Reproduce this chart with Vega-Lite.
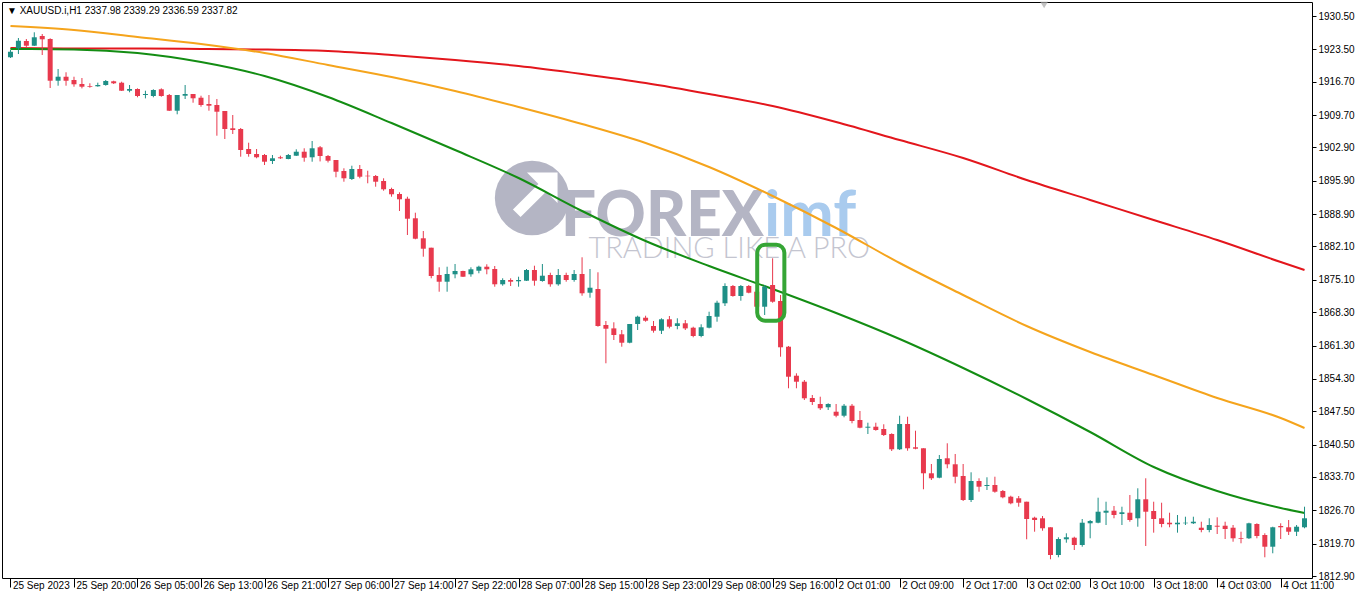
{
  "$schema": "https://vega.github.io/schema/vega-lite/v6.json",
  "width": 1310,
  "height": 576,
  "autosize": {"type": "none"},
  "padding": {"left": 2, "top": 2, "right": 48, "bottom": 23},
  "background": "#ffffff",
  "config": {
    "view": {"stroke": "#000000", "strokeWidth": 1},
    "axis": {"labelFont": "Liberation Sans", "labelFontSize": 10, "labelColor": "#000000", "domainColor": "#000000", "tickColor": "#000000", "grid": false, "title": null, "labelOverlap": false, "labelFlush": false, "labelBound": false}
  },
  "title": {"text": "▼ XAUUSD.i,H1  2337.98 2339.29 2336.59 2337.82", "anchor": "start", "frame": "group", "orient": "top", "offset": -14, "dx": 5, "font": "Liberation Sans", "fontSize": 10, "fontWeight": "normal", "color": "#000000"},
  "datasets": {
    "candles": [
      {"i":0,"o":1921.83,"h":1923.36,"l":1921.68,"c":1923.0},
      {"i":1,"o":1923.72,"h":1925.88,"l":1922.52,"c":1925.31},
      {"i":2,"o":1925.25,"h":1925.67,"l":1924.0,"c":1924.26},
      {"i":3,"o":1924.26,"h":1927.08,"l":1924.2,"c":1926.03},
      {"i":4,"o":1926.3,"h":1926.72,"l":1922.31,"c":1925.61},
      {"i":5,"o":1925.67,"h":1925.82,"l":1915.38,"c":1916.91},
      {"i":6,"o":1916.91,"h":1919.37,"l":1915.86,"c":1917.75},
      {"i":7,"o":1917.75,"h":1918.68,"l":1915.86,"c":1916.91},
      {"i":8,"o":1917.06,"h":1917.75,"l":1915.65,"c":1916.16},
      {"i":9,"o":1916.22,"h":1917.48,"l":1915.3,"c":1915.65},
      {"i":10,"o":1915.8,"h":1916.37,"l":1915.44,"c":1915.65},
      {"i":11,"o":1915.74,"h":1916.5,"l":1915.65,"c":1916.01},
      {"i":12,"o":1916.01,"h":1917.06,"l":1915.86,"c":1916.85},
      {"i":13,"o":1916.79,"h":1916.91,"l":1916.22,"c":1916.37},
      {"i":14,"o":1916.49,"h":1916.7,"l":1914.75,"c":1914.81},
      {"i":15,"o":1914.81,"h":1916.01,"l":1914.48,"c":1915.17},
      {"i":16,"o":1915.17,"h":1915.31,"l":1913.43,"c":1913.7},
      {"i":17,"o":1913.91,"h":1914.81,"l":1913.2,"c":1914.12},
      {"i":18,"o":1913.7,"h":1915.11,"l":1913.43,"c":1914.96},
      {"i":19,"o":1915.11,"h":1915.31,"l":1913.55,"c":1913.7},
      {"i":20,"o":1913.91,"h":1914.12,"l":1910.55,"c":1910.61},
      {"i":21,"o":1910.61,"h":1913.91,"l":1909.86,"c":1913.91},
      {"i":22,"o":1913.76,"h":1916.01,"l":1913.07,"c":1914.12},
      {"i":23,"o":1914.12,"h":1914.12,"l":1912.29,"c":1913.22},
      {"i":24,"o":1913.34,"h":1913.76,"l":1911.45,"c":1911.81},
      {"i":25,"o":1912.02,"h":1913.91,"l":1910.61,"c":1911.66},
      {"i":26,"o":1911.81,"h":1913.07,"l":1905.36,"c":1910.4},
      {"i":27,"o":1910.55,"h":1910.55,"l":1904.67,"c":1906.77},
      {"i":28,"o":1906.92,"h":1909.71,"l":1905.72,"c":1906.56},
      {"i":29,"o":1906.77,"h":1906.98,"l":1900.95,"c":1902.36},
      {"i":30,"o":1902.57,"h":1903.89,"l":1900.95,"c":1901.52},
      {"i":31,"o":1901.52,"h":1902.57,"l":1900.62,"c":1900.83},
      {"i":32,"o":1901.31,"h":1901.52,"l":1899.21,"c":1899.9},
      {"i":33,"o":1900.05,"h":1901.31,"l":1899.42,"c":1900.62},
      {"i":34,"o":1900.83,"h":1901.16,"l":1900.47,"c":1900.62},
      {"i":35,"o":1900.47,"h":1901.52,"l":1900.41,"c":1901.31},
      {"i":36,"o":1901.16,"h":1902.51,"l":1901.1,"c":1902.0},
      {"i":37,"o":1902.0,"h":1902.72,"l":1899.9,"c":1900.74},
      {"i":38,"o":1900.83,"h":1904.25,"l":1899.9,"c":1902.72},
      {"i":39,"o":1902.93,"h":1903.2,"l":1899.96,"c":1901.1},
      {"i":40,"o":1901.1,"h":1901.31,"l":1899.74,"c":1900.11},
      {"i":41,"o":1900.26,"h":1900.26,"l":1896.63,"c":1897.8},
      {"i":42,"o":1897.95,"h":1898.52,"l":1895.7,"c":1896.42},
      {"i":43,"o":1896.27,"h":1899.06,"l":1896.06,"c":1898.37},
      {"i":44,"o":1898.37,"h":1899.21,"l":1896.42,"c":1896.75},
      {"i":45,"o":1896.96,"h":1898.01,"l":1895.37,"c":1896.84},
      {"i":46,"o":1896.9,"h":1897.11,"l":1894.65,"c":1895.7},
      {"i":47,"o":1895.85,"h":1896.42,"l":1893.81,"c":1894.11},
      {"i":48,"o":1894.17,"h":1894.44,"l":1892.55,"c":1893.06},
      {"i":49,"o":1893.12,"h":1893.48,"l":1889.55,"c":1892.01},
      {"i":50,"o":1892.13,"h":1892.55,"l":1884.51,"c":1887.93},
      {"i":51,"o":1888.02,"h":1889.19,"l":1883.61,"c":1883.73},
      {"i":52,"o":1883.82,"h":1885.35,"l":1879.95,"c":1881.63},
      {"i":53,"o":1881.84,"h":1881.84,"l":1875.42,"c":1875.9},
      {"i":54,"o":1876.11,"h":1877.73,"l":1872.6,"c":1874.7},
      {"i":55,"o":1874.7,"h":1877.85,"l":1872.6,"c":1876.32},
      {"i":56,"o":1876.26,"h":1878.42,"l":1875.42,"c":1876.95},
      {"i":57,"o":1876.95,"h":1877.01,"l":1875.69,"c":1875.75},
      {"i":58,"o":1876.26,"h":1877.73,"l":1875.75,"c":1877.31},
      {"i":59,"o":1877.01,"h":1878.06,"l":1876.47,"c":1877.85},
      {"i":60,"o":1877.85,"h":1878.36,"l":1876.26,"c":1877.31},
      {"i":61,"o":1877.37,"h":1878.0,"l":1873.65,"c":1874.16},
      {"i":62,"o":1874.16,"h":1875.42,"l":1873.86,"c":1875.06},
      {"i":63,"o":1875.06,"h":1875.42,"l":1873.8,"c":1874.7},
      {"i":64,"o":1874.79,"h":1875.75,"l":1873.65,"c":1875.06},
      {"i":65,"o":1874.91,"h":1877.37,"l":1874.85,"c":1877.16},
      {"i":66,"o":1877.16,"h":1878.06,"l":1873.86,"c":1874.91},
      {"i":67,"o":1874.85,"h":1878.42,"l":1874.7,"c":1875.96},
      {"i":68,"o":1876.11,"h":1876.59,"l":1873.65,"c":1874.16},
      {"i":69,"o":1874.16,"h":1877.37,"l":1873.86,"c":1876.11},
      {"i":70,"o":1876.11,"h":1876.59,"l":1874.7,"c":1875.06},
      {"i":71,"o":1875.06,"h":1877.16,"l":1874.7,"c":1876.32},
      {"i":72,"o":1876.32,"h":1879.83,"l":1871.76,"c":1872.27},
      {"i":73,"o":1872.39,"h":1877.37,"l":1871.34,"c":1873.44},
      {"i":74,"o":1873.17,"h":1876.68,"l":1865.25,"c":1865.4},
      {"i":75,"o":1865.61,"h":1866.45,"l":1857.57,"c":1864.83},
      {"i":76,"o":1864.9,"h":1866.18,"l":1862.46,"c":1863.51},
      {"i":77,"o":1863.66,"h":1864.56,"l":1861.05,"c":1861.89},
      {"i":78,"o":1861.89,"h":1865.82,"l":1861.77,"c":1865.82},
      {"i":79,"o":1865.82,"h":1867.56,"l":1864.56,"c":1867.35},
      {"i":80,"o":1867.14,"h":1867.56,"l":1866.3,"c":1866.51},
      {"i":81,"o":1865.4,"h":1866.45,"l":1864.0,"c":1864.41},
      {"i":82,"o":1864.41,"h":1867.02,"l":1863.72,"c":1866.81},
      {"i":83,"o":1866.81,"h":1867.5,"l":1864.9,"c":1865.25},
      {"i":84,"o":1865.4,"h":1867.02,"l":1864.71,"c":1865.97},
      {"i":85,"o":1865.97,"h":1866.66,"l":1864.56,"c":1864.9},
      {"i":86,"o":1865.04,"h":1865.25,"l":1863.03,"c":1863.3},
      {"i":87,"o":1863.3,"h":1865.76,"l":1863.03,"c":1865.13},
      {"i":88,"o":1865.04,"h":1868.4,"l":1864.9,"c":1867.5},
      {"i":89,"o":1867.35,"h":1870.71,"l":1866.3,"c":1870.29},
      {"i":90,"o":1870.17,"h":1874.37,"l":1869.6,"c":1873.8},
      {"i":91,"o":1873.8,"h":1874.01,"l":1871.55,"c":1871.7},
      {"i":92,"o":1871.7,"h":1874.01,"l":1870.71,"c":1873.8},
      {"i":93,"o":1873.8,"h":1874.01,"l":1872.27,"c":1872.39},
      {"i":94,"o":1872.6,"h":1872.96,"l":1869.18,"c":1869.45},
      {"i":95,"o":1869.45,"h":1874.01,"l":1867.71,"c":1873.65},
      {"i":96,"o":1874.01,"h":1879.62,"l":1870.29,"c":1870.5},
      {"i":97,"o":1870.65,"h":1871.91,"l":1858.95,"c":1860.93},
      {"i":98,"o":1861.05,"h":1861.2,"l":1852.32,"c":1854.75},
      {"i":99,"o":1854.96,"h":1855.47,"l":1852.32,"c":1853.7},
      {"i":100,"o":1853.7,"h":1854.06,"l":1849.86,"c":1850.22},
      {"i":101,"o":1850.28,"h":1850.91,"l":1848.81,"c":1849.44},
      {"i":102,"o":1849.02,"h":1850.55,"l":1847.76,"c":1848.12},
      {"i":103,"o":1848.33,"h":1849.17,"l":1847.76,"c":1849.02},
      {"i":104,"o":1847.4,"h":1849.02,"l":1846.23,"c":1846.56},
      {"i":105,"o":1846.56,"h":1849.02,"l":1846.23,"c":1848.66},
      {"i":106,"o":1848.66,"h":1849.02,"l":1844.97,"c":1845.45},
      {"i":107,"o":1845.66,"h":1847.55,"l":1843.92,"c":1844.04},
      {"i":108,"o":1844.04,"h":1845.09,"l":1842.72,"c":1844.25},
      {"i":109,"o":1844.25,"h":1845.09,"l":1843.41,"c":1843.56},
      {"i":110,"o":1843.77,"h":1844.76,"l":1842.3,"c":1842.51},
      {"i":111,"o":1842.72,"h":1842.87,"l":1839.15,"c":1839.51},
      {"i":112,"o":1839.51,"h":1846.56,"l":1839.36,"c":1844.82},
      {"i":113,"o":1844.82,"h":1846.35,"l":1839.21,"c":1839.72},
      {"i":114,"o":1839.93,"h":1843.41,"l":1839.51,"c":1839.63},
      {"i":115,"o":1839.72,"h":1839.72,"l":1831.11,"c":1834.47},
      {"i":116,"o":1834.47,"h":1836.42,"l":1833.06,"c":1833.42},
      {"i":117,"o":1833.54,"h":1838.31,"l":1833.42,"c":1837.47},
      {"i":118,"o":1837.62,"h":1840.77,"l":1835.52,"c":1836.36},
      {"i":119,"o":1836.36,"h":1838.52,"l":1832.37,"c":1833.75},
      {"i":120,"o":1833.9,"h":1836.42,"l":1828.65,"c":1828.86},
      {"i":121,"o":1828.86,"h":1834.68,"l":1828.44,"c":1832.85},
      {"i":122,"o":1832.85,"h":1833.42,"l":1830.6,"c":1831.65},
      {"i":123,"o":1831.8,"h":1833.63,"l":1830.96,"c":1832.01},
      {"i":124,"o":1832.01,"h":1833.75,"l":1830.39,"c":1830.6},
      {"i":125,"o":1830.75,"h":1830.96,"l":1829.22,"c":1829.43},
      {"i":126,"o":1829.55,"h":1829.76,"l":1827.96,"c":1828.17},
      {"i":127,"o":1829.22,"h":1829.7,"l":1827.45,"c":1828.29},
      {"i":128,"o":1828.5,"h":1828.5,"l":1820.61,"c":1824.87},
      {"i":129,"o":1825.14,"h":1825.35,"l":1822.2,"c":1824.66},
      {"i":130,"o":1825.02,"h":1825.5,"l":1822.41,"c":1822.92},
      {"i":131,"o":1823.13,"h":1823.13,"l":1816.41,"c":1817.31},
      {"i":132,"o":1817.31,"h":1821.03,"l":1816.83,"c":1820.67},
      {"i":133,"o":1820.61,"h":1821.87,"l":1819.89,"c":1821.03},
      {"i":134,"o":1820.94,"h":1821.15,"l":1818.36,"c":1819.41},
      {"i":135,"o":1819.41,"h":1824.87,"l":1819.05,"c":1824.09},
      {"i":136,"o":1823.97,"h":1824.66,"l":1820.82,"c":1824.45},
      {"i":137,"o":1824.09,"h":1829.34,"l":1823.97,"c":1826.4},
      {"i":138,"o":1826.19,"h":1828.5,"l":1823.61,"c":1826.61},
      {"i":139,"o":1826.61,"h":1827.6,"l":1825.02,"c":1825.71},
      {"i":140,"o":1825.92,"h":1827.45,"l":1823.61,"c":1826.28},
      {"i":141,"o":1826.19,"h":1829.91,"l":1824.3,"c":1824.66},
      {"i":142,"o":1825.02,"h":1831.32,"l":1823.25,"c":1829.01},
      {"i":143,"o":1829.01,"h":1833.42,"l":1819.2,"c":1826.4},
      {"i":144,"o":1826.55,"h":1828.5,"l":1822.0,"c":1824.87},
      {"i":145,"o":1825.02,"h":1828.29,"l":1823.13,"c":1823.82},
      {"i":146,"o":1824.09,"h":1826.19,"l":1823.13,"c":1823.76},
      {"i":147,"o":1823.76,"h":1825.71,"l":1822.0,"c":1824.09},
      {"i":148,"o":1823.97,"h":1825.35,"l":1823.61,"c":1824.09},
      {"i":149,"o":1823.97,"h":1825.35,"l":1823.82,"c":1824.3},
      {"i":150,"o":1823.04,"h":1824.3,"l":1822.08,"c":1822.56},
      {"i":151,"o":1822.56,"h":1825.02,"l":1822.08,"c":1823.61},
      {"i":152,"o":1823.46,"h":1825.23,"l":1821.72,"c":1823.25},
      {"i":153,"o":1823.46,"h":1824.3,"l":1820.67,"c":1822.77},
      {"i":154,"o":1823.04,"h":1823.61,"l":1820.1,"c":1820.82},
      {"i":155,"o":1820.82,"h":1822.2,"l":1819.77,"c":1820.67},
      {"i":156,"o":1820.82,"h":1824.09,"l":1820.67,"c":1823.97},
      {"i":157,"o":1823.82,"h":1823.97,"l":1820.82,"c":1821.3},
      {"i":158,"o":1821.51,"h":1821.87,"l":1816.83,"c":1819.05},
      {"i":159,"o":1819.05,"h":1823.25,"l":1817.67,"c":1823.13},
      {"i":160,"o":1823.4,"h":1823.97,"l":1820.67,"c":1823.13},
      {"i":161,"o":1823.13,"h":1824.66,"l":1821.51,"c":1822.2},
      {"i":162,"o":1822.2,"h":1823.61,"l":1821.3,"c":1823.25},
      {"i":163,"o":1823.13,"h":1827.45,"l":1822.92,"c":1825.02}
    ],
    "ma": [
      {"i":0,"m":"slow","v":1923.78},{"i":8,"m":"slow","v":1923.68},{"i":16,"m":"slow","v":1923.68},{"i":24,"m":"slow","v":1923.57},{"i":32,"m":"slow","v":1923.47},{"i":40,"m":"slow","v":1923.15},{"i":48,"m":"slow","v":1922.31},{"i":56,"m":"slow","v":1921.26},{"i":64,"m":"slow","v":1920.0},{"i":72,"m":"slow","v":1918.32},{"i":80,"m":"slow","v":1916.43},{"i":88,"m":"slow","v":1914.12},{"i":96,"m":"slow","v":1911.6},{"i":104,"m":"slow","v":1908.24},{"i":112,"m":"slow","v":1904.46},{"i":120,"m":"slow","v":1900.68},{"i":128,"m":"slow","v":1896.06},{"i":136,"m":"slow","v":1891.86},{"i":144,"m":"slow","v":1887.66},{"i":152,"m":"slow","v":1883.46},{"i":160,"m":"slow","v":1878.84},{"i":163,"m":"slow","v":1877.16},
      {"i":0,"m":"mid","v":1928.4},{"i":8,"m":"mid","v":1927.56},{"i":16,"m":"mid","v":1926.09},{"i":24,"m":"mid","v":1924.62},{"i":32,"m":"mid","v":1922.73},{"i":40,"m":"mid","v":1920.21},{"i":48,"m":"mid","v":1917.69},{"i":56,"m":"mid","v":1914.75},{"i":64,"m":"mid","v":1911.39},{"i":72,"m":"mid","v":1907.82},{"i":80,"m":"mid","v":1903.83},{"i":88,"m":"mid","v":1898.79},{"i":96,"m":"mid","v":1892.7},{"i":104,"m":"mid","v":1885.98},{"i":112,"m":"mid","v":1878.63},{"i":120,"m":"mid","v":1871.91},{"i":128,"m":"mid","v":1865.4},{"i":136,"m":"mid","v":1859.94},{"i":144,"m":"mid","v":1855.11},{"i":152,"m":"mid","v":1850.28},{"i":160,"m":"mid","v":1846.08},{"i":163,"m":"mid","v":1843.98},
      {"i":0,"m":"fast","v":1923.57},{"i":8,"m":"fast","v":1923.47},{"i":16,"m":"fast","v":1922.73},{"i":24,"m":"fast","v":1920.84},{"i":32,"m":"fast","v":1917.9},{"i":40,"m":"fast","v":1913.49},{"i":48,"m":"fast","v":1908.03},{"i":56,"m":"fast","v":1902.36},{"i":64,"m":"fast","v":1896.48},{"i":72,"m":"fast","v":1889.55},{"i":80,"m":"fast","v":1883.25},{"i":88,"m":"fast","v":1878.0},{"i":96,"m":"fast","v":1873.17},{"i":104,"m":"fast","v":1868.13},{"i":112,"m":"fast","v":1862.67},{"i":120,"m":"fast","v":1856.58},{"i":128,"m":"fast","v":1850.07},{"i":136,"m":"fast","v":1843.14},{"i":144,"m":"fast","v":1835.79},{"i":152,"m":"fast","v":1830.75},{"i":160,"m":"fast","v":1827.18},{"i":163,"m":"fast","v":1826.13}
    ]
  },
  "layer": [
    {
      "data": {"values": [{"i": 65.7, "p": 1892.28}]},
      "mark": {"type": "point", "shape": "circle", "filled": true, "size": 5542, "color": "#b4b5c4", "opacity": 1},
      "encoding": {
        "x": {"field": "i", "type": "quantitative", "scale": {"domain": [-0.4375, 163.3125], "nice": false, "zero": false},
          "axis": {"orient": "bottom", "values": [0,8,16,24,32,40,48,56,64,72,80,88,96,104,112,120,128,136,144,152,160], "tickCount": 100, "labelExpr": "['25 Sep 2023','25 Sep 20:00','26 Sep 05:00','26 Sep 13:00','26 Sep 21:00','27 Sep 06:00','27 Sep 14:00','27 Sep 22:00','28 Sep 07:00','28 Sep 15:00','28 Sep 23:00','29 Sep 08:00','29 Sep 16:00','2 Oct 01:00','2 Oct 09:00','2 Oct 17:00','3 Oct 02:00','3 Oct 10:00','3 Oct 18:00','4 Oct 03:00','4 Oct 11:00'][round(datum.value/8)]", "labelAlign": "left", "labelBaseline": "top", "tickSize": 9, "labelPadding": -7, "labelOffset": 2, "labelOverlap": false, "labelFlush": false, "labelBound": false, "domain": false}},
        "y": {"field": "p", "type": "quantitative", "scale": {"domain": [1812.48, 1933.44], "nice": false, "zero": false},
          "axis": {"orient": "right", "values": [1930.5,1923.5,1916.7,1909.7,1902.9,1895.9,1888.9,1882.1,1875.1,1868.3,1861.3,1854.3,1847.5,1840.5,1833.7,1826.7,1819.7,1812.9], "tickCount": 100, "format": ".2f", "labelAlign": "left", "labelBaseline": "middle", "tickSize": 4, "labelPadding": 2, "labelOverlap": false, "labelFlush": false, "labelBound": false, "domain": false}}
      }
    },
    {
      "data": {"values": [{"i": 65.7, "p": 1892.28}]},
      "mark": {"type": "point", "shape": "M1,-1 L1,0.2 L0.55,-0.25 L-0.45,0.75 L-0.75,0.45 L0.25,-0.55 L-0.2,-1 Z", "filled": true, "size": 2600, "color": "#ffffff", "opacity": 1},
      "encoding": {"x": {"field": "i", "type": "quantitative"}, "y": {"field": "p", "type": "quantitative"}}
    },
    {
      "data": {"values": [{"i": 94.9, "p": 1884.3, "t": "FOREX"}]},
      "mark": {"type": "text", "align": "right", "baseline": "alphabetic", "font": "Lato", "fontWeight": 900, "fontSize": 62, "color": "#b4b5c4"},
      "encoding": {"x": {"field": "i", "type": "quantitative"}, "y": {"field": "p", "type": "quantitative"}, "text": {"field": "t"}}
    },
    {
      "data": {"values": [{"i": 94.9, "p": 1884.3, "t": "imf"}]},
      "mark": {"type": "text", "align": "left", "baseline": "alphabetic", "font": "Lato", "fontWeight": "bold", "fontSize": 64, "color": "#a9cbee"},
      "encoding": {"x": {"field": "i", "type": "quantitative"}, "y": {"field": "p", "type": "quantitative"}, "text": {"field": "t"}}
    },
    {
      "data": {"values": [{"i": 72.8, "p": 1879.68, "t": "TRADING LIKE A PRO"}]},
      "mark": {"type": "text", "align": "left", "baseline": "alphabetic", "font": "Lato", "fontWeight": 300, "fontSize": 29, "color": "#c4c5d0"},
      "encoding": {"x": {"field": "i", "type": "quantitative"}, "y": {"field": "p", "type": "quantitative"}, "text": {"field": "t"}}
    },
    {
      "data": {"name": "ma"},
      "mark": {"type": "line", "strokeWidth": 2, "interpolate": "monotone"},
      "encoding": {
        "x": {"field": "i", "type": "quantitative"},
        "y": {"field": "v", "type": "quantitative"},
        "color": {"field": "m", "type": "nominal", "scale": {"domain": ["slow", "mid", "fast"], "range": ["#e3161c", "#f5a41c", "#138d13"]}, "legend": null}
      }
    },
    {
      "data": {"name": "candles"},
      "mark": {"type": "rule", "strokeWidth": 1},
      "encoding": {
        "x": {"field": "i", "type": "quantitative"},
        "y": {"field": "l", "type": "quantitative"},
        "y2": {"field": "h"},
        "color": {"condition": {"test": "datum.c >= datum.o", "value": "#1e8f86"}, "value": "#e8394d"}
      }
    },
    {
      "data": {"name": "candles"},
      "mark": {"type": "bar", "width": 5},
      "encoding": {
        "x": {"field": "i", "type": "quantitative"},
        "y": {"field": "o", "type": "quantitative"},
        "y2": {"field": "c"},
        "color": {"condition": {"test": "datum.c >= datum.o", "value": "#1e8f86"}, "value": "#e8394d"}
      }
    },
    {
      "data": {"values": [{"a": 94.06, "b": 97.48, "top": 1882.47, "bot": 1866.51}]},
      "mark": {"type": "rect", "fillOpacity": 0, "stroke": "#35a535", "strokeWidth": 4, "cornerRadius": 8},
      "encoding": {
        "x": {"field": "a", "type": "quantitative"},
        "x2": {"field": "b"},
        "y": {"field": "top", "type": "quantitative"},
        "y2": {"field": "bot"}
      }
    },
    {
      "data": {"values": [{"i": 130.2, "p": 1932.81}]},
      "mark": {"type": "point", "shape": "triangle-down", "filled": true, "size": 60, "color": "#a8a8a8"},
      "encoding": {"x": {"field": "i", "type": "quantitative"}, "y": {"field": "p", "type": "quantitative"}}
    }
  ]
}
